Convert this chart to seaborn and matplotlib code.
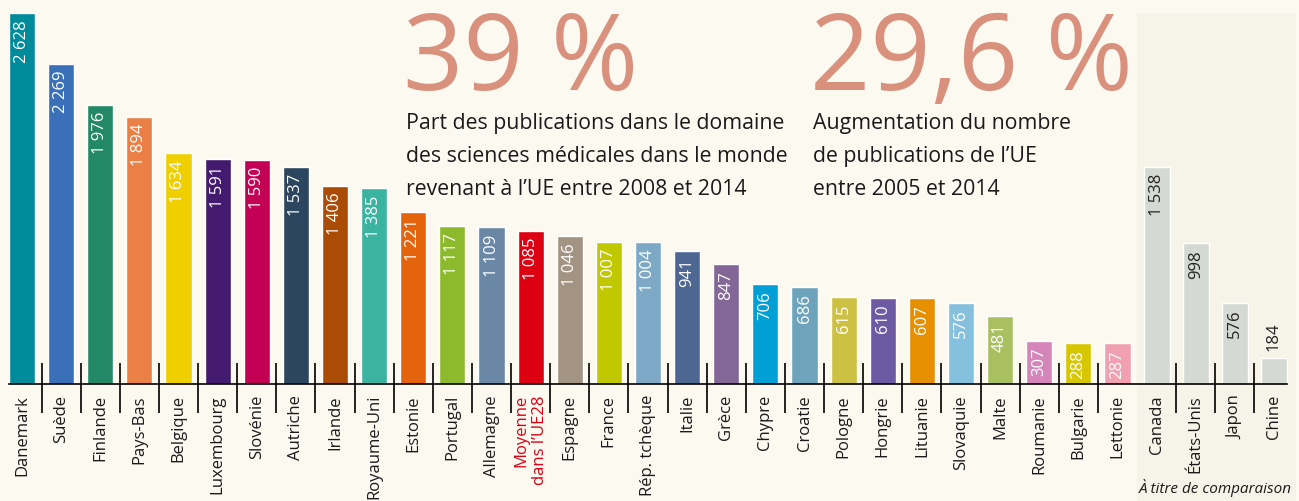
import matplotlib
matplotlib.use("Agg")
import matplotlib.pyplot as plt
import seaborn as sns
import pandas as pd
from matplotlib.patches import Rectangle

# --- Données ---
pays = ['Danemark', 'Suède', 'Finlande', 'Pays-Bas', 'Belgique', 'Luxembourg',
        'Slovénie', 'Autriche', 'Irlande', 'Royaume-Uni', 'Estonie', 'Portugal',
        'Allemagne', 'Moyenne\ndans l\u2019UE28', 'Espagne', 'France', 'Rép. tchèque',
        'Italie', 'Grèce', 'Chypre', 'Croatie', 'Pologne', 'Hongrie', 'Lituanie',
        'Slovaquie', 'Malte', 'Roumanie', 'Bulgarie', 'Lettonie',
        'Canada', 'États-Unis', 'Japon', 'Chine']
valeurs = [2628, 2269, 1976, 1894, 1634, 1591, 1590, 1537, 1406, 1385, 1221, 1117,
           1109, 1085, 1046, 1007, 1004, 941, 847, 706, 686, 615, 610, 607,
           576, 481, 307, 288, 287,
           1538, 998, 576, 184]
couleurs = ['#008b9a', '#3a70b8', '#228866', '#ea8045', '#efcf00', '#431a6e',
            '#c40055', '#2b465e', '#ab4c06', '#3ab3a0', '#e3640c', '#8cba2c',
            '#6a87a6', '#dd0010', '#a39382', '#c1c800', '#7ea9c6', '#4e6792',
            '#836897', '#00a0d6', '#6fa3bb', '#cdc144', '#6d5aa3', '#e68f00',
            '#85c0de', '#a8c060', '#d486bb', '#d6c700', '#f0a0b0',
            '#d5d9d3', '#d5d9d3', '#d5d9d3', '#d5d9d3']
n_comparaison = 4  # Canada, États-Unis, Japon, Chine

chiffre_1 = '39 %'
texte_1 = ['Part des publications dans le domaine',
           'des sciences médicales dans le monde',
           'revenant à l\u2019UE entre 2008 et 2014']
chiffre_2 = '29,6 %'
texte_2 = ['Augmentation du nombre',
           'de publications de l\u2019UE',
           'entre 2005 et 2014']

df = pd.DataFrame({'Pays': pays, 'Valeur': valeurs})

# --- Figure ---
W, H = 1299, 501
fond = '#fcf9f1'
sns.set_style("white")
plt.rcParams['font.family'] = ['Open Sans', 'DejaVu Sans']

fig = plt.figure(figsize=(W / 100, H / 100), dpi=100, facecolor=fond)
pas = 39.125
ax = fig.add_axes([(22 - 0.5 * pas) / W, 117 / H, 33 * pas / W, 371 / H])
ax.set_facecolor('none')

n = len(pays)
debut_comp = n - n_comparaison

# fond de la zone de comparaison (derrière les axes)
par_px = 2628 / 371
fig.patches.append(Rectangle(((22 + (debut_comp - 0.5) * pas) / W, 0),
                             (n_comparaison * pas + 1) / W, (H - 13) / H,
                             transform=fig.transFigure, color='#f6f4e8', zorder=-5))

sns.barplot(data=df, x='Pays', y='Valeur', hue='Pays', palette=couleurs,
            legend=False, width=0.665, saturation=1, ax=ax, zorder=2)

ax.set_xlim(-0.5, n - 0.5)
ax.set_ylim(0, 2628)
ax.set_xlabel('')
ax.set_ylabel('')
ax.set_yticks([])
for s in ['top', 'right', 'left']:
    ax.spines[s].set_visible(False)
ax.spines['bottom'].set_bounds(-0.333, n - 1 + 0.333)
ax.spines['bottom'].set_linewidth(1.2)
ax.spines['bottom'].set_color('black')

ax.tick_params(axis='x', length=0, pad=8)
ax.set_xticks(range(n))
ax.set_xticklabels(pays, rotation=90, fontsize=12, ha='center', va='top',
                   multialignment='right')
for i, lbl in enumerate(ax.get_xticklabels()):
    lbl.set_color('#dd0010' if 'Moyenne' in pays[i] else '#1a1a1a')

# séparateurs entre les barres
seps = [i + 0.5 for i in range(n - 1) if i != debut_comp - 1]
ax.vlines(seps, -29 * par_px, 21 * par_px, colors='black', lw=1.2, clip_on=False)

# valeurs
for i, p in enumerate(ax.patches):
    h = p.get_height()
    txt = f'{int(h):,}'.replace(',', ' ')
    x = p.get_x() + p.get_width() / 2
    c = '#222222' if i >= debut_comp else 'white'
    if h < 250:
        ax.annotate(txt, (x, h), xytext=(0, 5), textcoords='offset points',
                    rotation=90, ha='center', va='bottom', color=c, fontsize=12)
    else:
        ax.annotate(txt, (x, h), xytext=(0, -5), textcoords='offset points',
                    rotation=90, ha='center', va='top', color=c, fontsize=12)

fig.text((22 + (n - 2.5) * pas) / W, 1 - 493 / H, 'À titre de comparaison',
         ha='center', va='baseline', fontsize=11, style='italic', color='#1a1a1a')

# chiffres clés
saumon = '#d9907c'
for x0, chiffre, lignes in [(403, chiffre_1, texte_1), (810, chiffre_2, texte_2)]:
    fig.text(x0 / W, 1 - 90 / H, chiffre, fontsize=76, color=saumon,
             ha='left', va='baseline')
    for k, ligne in enumerate(lignes):
        fig.text((x0 + 3) / W, 1 - (129 + 33 * k) / H, ligne, fontsize=15.3,
                 color='#1a1a1a', ha='left', va='baseline')

fig.savefig('out.png', dpi=100, facecolor=fond)
